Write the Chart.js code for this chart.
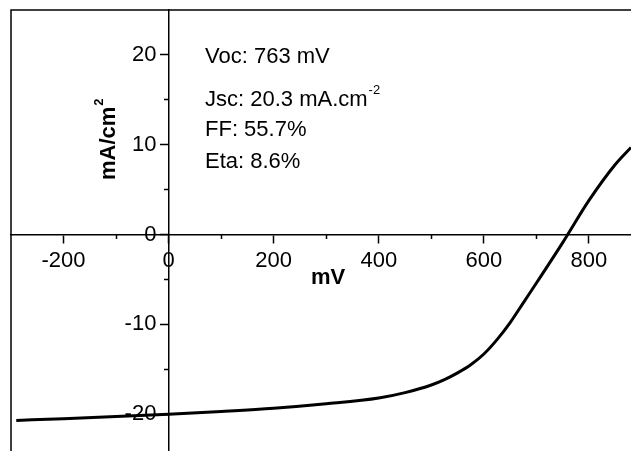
<!DOCTYPE html>
<html>
<head>
<meta charset="utf-8">
<script src="https://cdn.jsdelivr.net/npm/chart.js@4.4.1/dist/chart.umd.min.js"></script>
<style>
  html, body { margin: 0; padding: 0; background: #fff; }
  canvas { display: block; }
</style>
</head>
<body>
<canvas id="myChart" width="631" height="451"></canvas>
<script>

// J-V curve (mV, mA/cm2)
var voltage = [-290, -200, -100, 0, 100, 200, 300, 400, 450, 500, 525, 550, 575, 600, 625, 650, 675, 700, 750, 800, 850, 880];
var current = [-20.7, -20.5, -20.25, -20.0, -19.7, -19.35, -18.85, -18.2, -17.6, -16.75, -16.15, -15.4, -14.5, -13.3, -11.7, -9.8, -7.6, -5.4, -0.9, 3.8, 7.8, 9.7];

var xMajorTicks = [-200, 0, 200, 400, 600, 800];
var xMinorTicks = [-100, 100, 300, 500, 700];
var yMajorTicks = [-20, -10, 0, 10, 20];
var yMinorTicks = [-15, -5, 5, 15];

var resultLabels = ['Voc: 763 mV', 'Jsc: 20.3 mA.cm', 'FF: 55.7%', 'Eta: 8.6%'];
var resultSups = ['', '-2', '', ''];

var fontName = '"Liberation Sans", Arial, Helvetica, sans-serif';

function setTicks(values) {
    return function (scale) {
        scale.ticks = values.map(function (v) { return { value: v }; });
    };
}

function noPadding(scale) {
    scale.paddingLeft = 0;
    scale.paddingRight = 0;
    scale.paddingTop = 0;
    scale.paddingBottom = 0;
}

function drawWithSup(ctx, text, sup, x, y, size, weight) {
    ctx.font = weight + ' ' + size + 'px ' + fontName;
    ctx.fillText(text, x, y);
    if (sup) {
        var w = ctx.measureText(text).width;
        ctx.font = weight + ' ' + Math.round(size * 0.6) + 'px ' + fontName;
        ctx.fillText(sup, x + w + 1, y - size * 0.42);
    }
}

var frameAndText = {
    id: 'frameAndText',
    afterDraw: function (chart) {
        var ctx = chart.ctx;
        var area = chart.chartArea;
        ctx.save();

        // frame (only left and top edges fall inside the picture)
        ctx.strokeStyle = '#000';
        ctx.lineWidth = 1.5;
        ctx.beginPath();
        ctx.moveTo(area.left, area.bottom);
        ctx.lineTo(area.left, area.top);
        ctx.lineTo(area.right, area.top);
        ctx.stroke();

        ctx.fillStyle = '#000';
        ctx.textAlign = 'left';
        ctx.textBaseline = 'middle';

        // cell results
        var lineY = [57, 100, 130, 162];
        resultLabels.forEach(function (label, i) {
            drawWithSup(ctx, label, resultSups[i], 205, lineY[i], 22, 'normal');
        });

        // axis titles
        ctx.textAlign = 'center';
        ctx.font = 'bold 22px ' + fontName;
        ctx.fillText('mV', 328, 278);

        ctx.translate(109, 180);
        ctx.rotate(-Math.PI / 2);
        ctx.textAlign = 'left';
        drawWithSup(ctx, 'mA/cm', '2', 0, 0, 22, 'bold');

        ctx.restore();
    }
};

var tickFont = { family: fontName, size: 22 };

var chartId = document.getElementById('myChart').getContext('2d');

var myChart = new Chart(chartId, {
    type: 'line',
    data: {
        datasets: [{
            label: 'J-V',
            data: voltage.map(function (v, i) { return { x: v, y: current[i] }; }),
            borderColor: '#000',
            borderWidth: 3,
            pointRadius: 0,
            fill: false,
            cubicInterpolationMode: 'monotone',
            xAxisID: 'x',
            yAxisID: 'y'
        }]
    },
    options: {
        responsive: false,
        animation: false,
        layout: {
            padding: { left: 11, top: 10, right: 0, bottom: 0 }
        },
        plugins: {
            legend: { display: false },
            tooltip: { enabled: false }
        },
        scales: {
            x: {
                type: 'linear',
                min: -300,
                max: 880,
                position: { y: 0 },
                afterBuildTicks: setTicks(xMajorTicks),
                afterFit: noPadding,
                grid: { drawOnChartArea: false, drawTicks: true, tickLength: 8, tickWidth: 1.5, tickColor: '#000' },
                border: { display: true, color: '#000', width: 1.5 },
                ticks: { color: '#000', font: tickFont, padding: 5, maxRotation: 0, autoSkip: false }
            },
            xMinor: {
                type: 'linear',
                axis: 'x',
                min: -300,
                max: 880,
                position: { y: 0 },
                afterBuildTicks: setTicks(xMinorTicks),
                afterFit: noPadding,
                grid: { drawOnChartArea: false, drawTicks: true, tickLength: 4, tickWidth: 1.5, tickColor: '#000' },
                border: { display: false },
                ticks: { display: false }
            },
            y: {
                type: 'linear',
                min: -24.1,
                max: 25,
                position: { x: 0 },
                afterBuildTicks: setTicks(yMajorTicks),
                afterFit: noPadding,
                grid: { drawOnChartArea: false, drawTicks: true, tickLength: 8, tickWidth: 1.5, tickColor: '#000' },
                border: { display: true, color: '#000', width: 1.5 },
                ticks: {
                    color: '#000',
                    font: tickFont,
                    autoSkip: false,
                    // labels of a value-positioned y axis sit right on the axis, so pad them off it
                    callback: function (value) { return value + '  '; }
                }
            },
            yMinor: {
                type: 'linear',
                axis: 'y',
                min: -24.1,
                max: 25,
                position: { x: 0 },
                afterBuildTicks: setTicks(yMinorTicks),
                afterFit: noPadding,
                grid: { drawOnChartArea: false, drawTicks: true, tickLength: 5, tickWidth: 1.5, tickColor: '#000' },
                border: { display: false },
                ticks: { display: false }
            }
        }
    },
    plugins: [frameAndText]
});
</script>
</body>
</html>
